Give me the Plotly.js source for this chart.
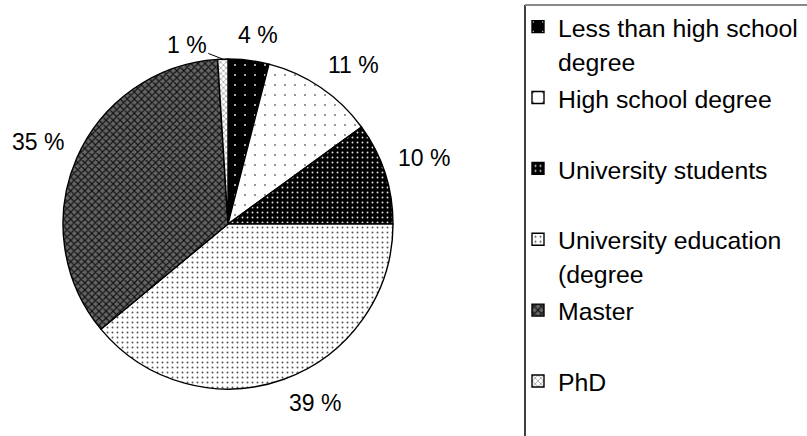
<!DOCTYPE html>
<html><head><meta charset="utf-8">
<script src="https://cdn.plot.ly/plotly-3.0.1.min.js"></script>
<style>html,body{margin:0;padding:0;background:#fff;}#chart{width:807px;height:436px;}</style>
</head><body><div id="chart"></div>
<script>
// ---- data ----
const categories = ['Less than high school<br>degree', 'High school degree', 'University students', 'University education<br>(degree', 'Master', 'PhD'];
const values = [4, 11, 10, 39, 35, 1];
const valueLabels = ['4 %', '11 %', '10 %', '39 %', '35 %', '1 %'];

// ---- styles ----
const patShape = ['.', '.', '.', '.', 'x', 'x'];
const patBg = ['#000000', '#ffffff', '#000000', '#ffffff', '#646464', '#ffffff'];
const patFg = ['#dddddd', '#777777', '#dddddd', '#555555', '#111111', '#888888'];
const patSize = [10, 10, 5, 5, 5, 4];
const patSolid = [0.03, 0.03, 0.12, 0.12, 0.4, 0.3];

const W = 807, H = 436, CX = 228, CY = 224, R = 165;
const FONT = 'Liberation Sans, Arial, sans-serif';
const legFs = 24.8;
const lblFs = 23;

function wrapLabel(c) {
  const parts = c.split('<br>');
  if (parts.length < 2) parts.push(' ');
  return parts.map(p => '<span style="font-size:' + legFs + 'px">' + p + '</span>').join('<br>');
}
const legendLabels = categories.map(wrapLabel);

const pie = {
  type: 'pie', labels: legendLabels, values: values, sort: false, direction: 'clockwise', rotation: 0,
  textinfo: 'none', hoverinfo: 'label+value',
  domain: {x: [(CX - R) / W, (CX + R) / W], y: [(H - CY - R) / H, (H - CY + R) / H]},
  marker: {
    colors: patBg, line: {color: '#000', width: 1.4},
    pattern: {shape: patShape, bgcolor: patBg, fgcolor: patFg, size: patSize, solidity: patSolid, fillmode: 'replace'}
  }
};

// percentage labels placed from slice angles
const ctx = document.createElement('canvas').getContext('2d');
ctx.font = lblFs + 'px Liberation Sans';
const clamp = v => Math.max(-1, Math.min(1, v));
const total = values.reduce((a, b) => a + b, 0);
const annotations = [];
let cum = 0;
const gap = 14, hLbl = 22;
values.forEach((v, i) => {
  const th = (cum + v / 2) / total * 2 * Math.PI; cum += v;
  const ux = Math.sin(th), uy = -Math.cos(th);
  const px = CX + R * ux, py = CY + R * uy;
  if (v < 2) {
    annotations.push({xref: 'paper', yref: 'paper', x: px / W, y: 1 - py / H, text: valueLabels[i],
      showarrow: true, arrowhead: 0, arrowwidth: 1, arrowcolor: '#000', ax: -36, ay: -14, standoff: 0,
      font: {family: FONT, size: lblFs, color: '#000'}});
  } else {
    const w = ctx.measureText(valueLabels[i]).width;
    const qx = px + gap * ux + clamp(3 * ux) * w / 2;
    const qy = py + gap * uy + clamp(3 * uy) * hLbl / 2;
    annotations.push({xref: 'paper', yref: 'paper', x: qx / W, y: 1 - qy / H, text: valueLabels[i], showarrow: false,
      xanchor: 'center', yanchor: 'middle',
      font: {family: FONT, size: lblFs, color: '#000'}});
  }
});

const layout = {
  width: W, height: H, margin: {l: 0, r: 0, t: 0, b: 0, autoexpand: false},
  paper_bgcolor: '#fff', showlegend: true,
  legend: {x: 518 / W, xanchor: 'left', y: 1 - 3.2 / H, yanchor: 'top', valign: 'top', maxheight: 600,
    font: {family: FONT, size: 26.1, color: '#000'}, bgcolor: 'rgba(0,0,0,0)', borderwidth: 0},
  annotations: annotations,
  shapes: [
    {type: 'line', xref: 'paper', yref: 'paper', x0: 525 / W, x1: 525 / W, y0: 1 - 5 / H, y1: 0, line: {color: '#000', width: 1.5}},
    {type: 'line', xref: 'paper', yref: 'paper', x0: 525 / W, x1: 1, y0: 1 - 5 / H, y1: 1 - 5 / H, line: {color: '#888', width: 2}}
  ]
};

Plotly.newPlot('chart', [pie], layout, {displayModeBar: false, staticPlot: true});
</script></body></html>
